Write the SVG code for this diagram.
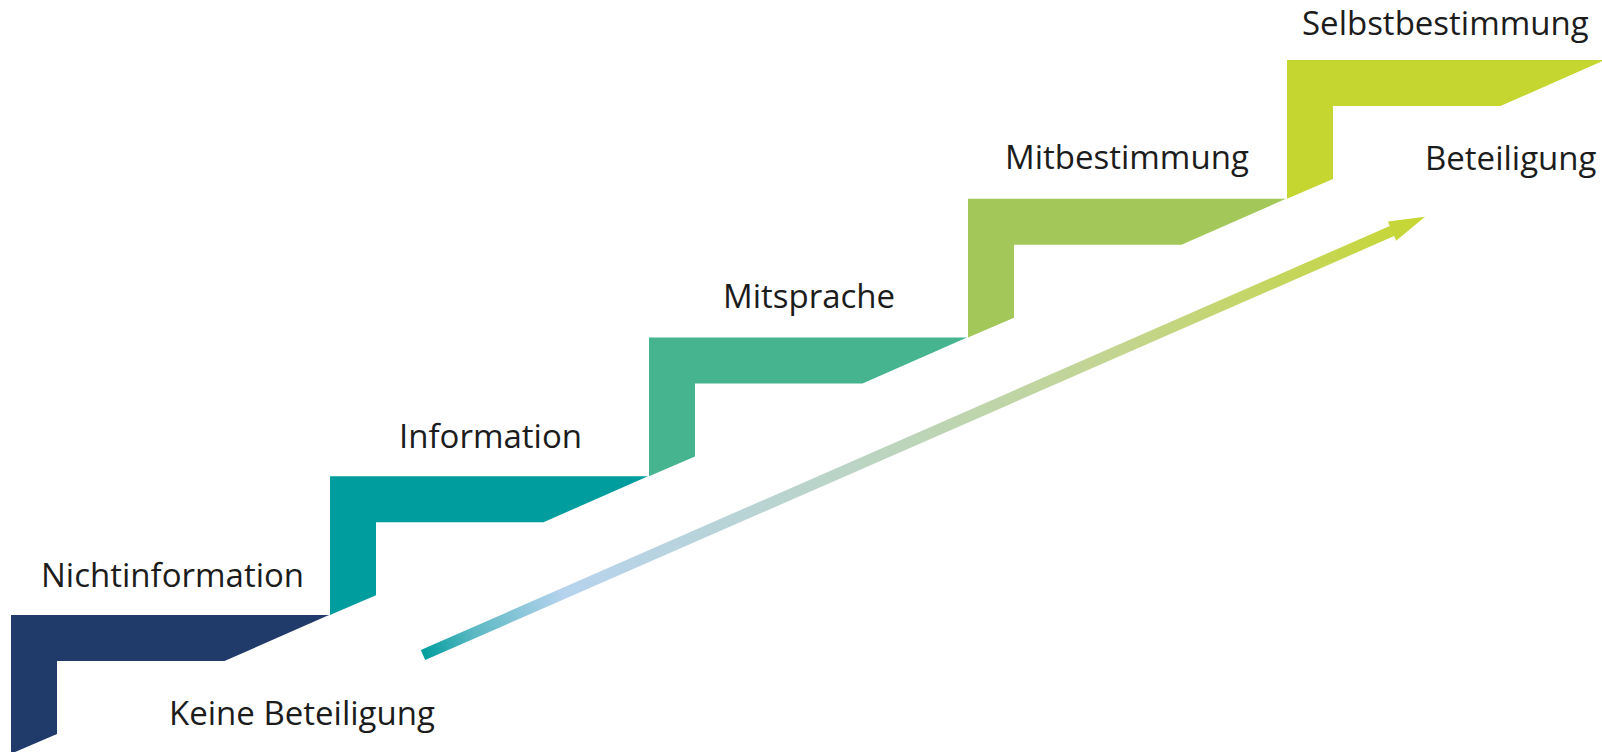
<svg xmlns="http://www.w3.org/2000/svg" width="1602" height="752" viewBox="0 0 1602 752">
  <style>
    .label { font-family: "Open Sans", "Liberation Sans", sans-serif; font-size: 33px; fill: #1c1c1c; }
  </style>
  <defs>
    <!-- one stair tread with its riser -->
    <path id="step" d="M0,0 H318 L213.5,46 H46 V119 L0,138.75 Z"/>
    <linearGradient id="rise" gradientUnits="userSpaceOnUse" x1="423" y1="655" x2="1425" y2="217">
      <stop offset="0" stop-color="#009e9e"/>
      <stop offset="0.05" stop-color="#5ab8c2"/>
      <stop offset="0.14" stop-color="#b6d3ee"/>
      <stop offset="0.42" stop-color="#bad4c6"/>
      <stop offset="0.7" stop-color="#c3d58e"/>
      <stop offset="1" stop-color="#c6d631"/>
    </linearGradient>
  </defs>

  <g id="stairs">
    <g id="step-nichtinformation"><use href="#step" x="11" y="615" fill="#203a6a"/></g>
    <g id="step-information"><use href="#step" x="330" y="476.25" fill="#009d9f"/></g>
    <g id="step-mitsprache"><use href="#step" x="649" y="337.5" fill="#45b48f"/></g>
    <g id="step-mitbestimmung"><use href="#step" x="968" y="198.75" fill="#a3c859"/></g>
    <g id="step-selbstbestimmung"><use href="#step" x="1287" y="60" fill="#c6d631"/></g>
  </g>

  <g id="connectors">
    <polygon fill="url(#rise)" points="425.2,660.1 420.8,649.9 1389.79,226 1387.8,221.41 1425,216.7 1396.16,240.67 1394.17,236.08"/>
  </g>

  <g id="labels">
    <text class="label" x="41" y="587">Nichtinformation</text>
    <text class="label" x="169" y="725">Keine Beteiligung</text>
    <text class="label" x="399" y="448">Information</text>
    <text class="label" x="723" y="308">Mitsprache</text>
    <text class="label" x="1005" y="169">Mitbestimmung</text>
    <text class="label" x="1302" y="35">Selbstbestimmung</text>
    <text class="label" x="1425" y="170">Beteiligung</text>
  </g>
</svg>
